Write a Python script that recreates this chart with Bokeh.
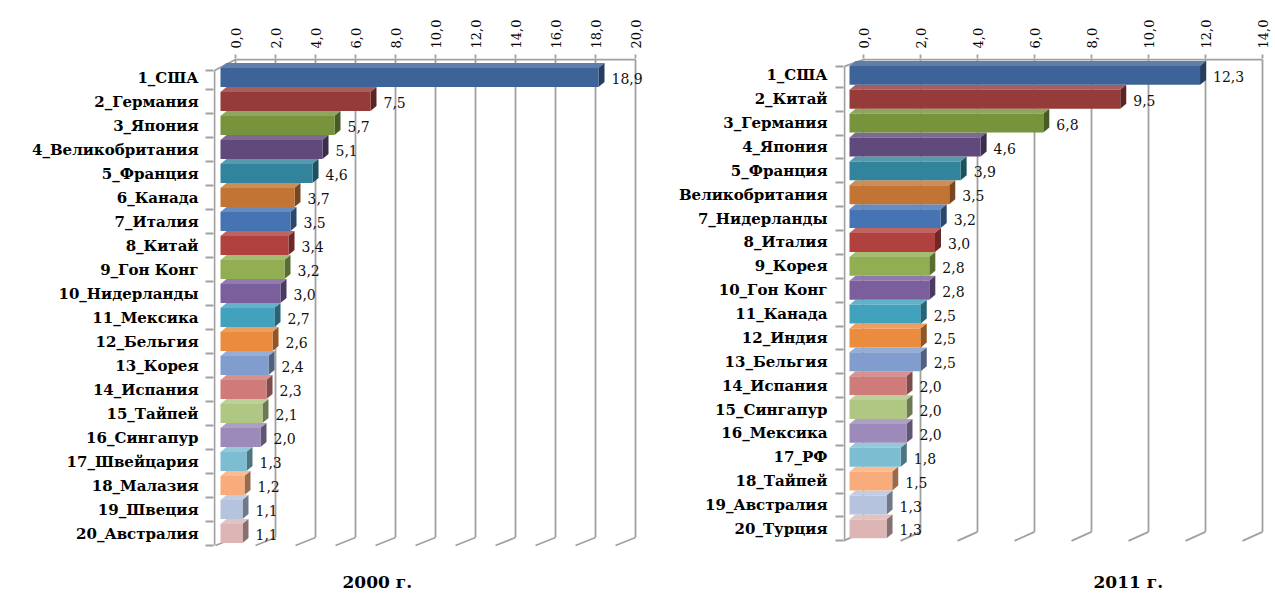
import math
from bokeh.plotting import figure
from bokeh.models import (Range1d, FixedTicker, LinearAxis, CustomJSTickFormatter,
                          Label, ColumnDataSource)
from bokeh.layouts import row
from bokeh.core.properties import value
from bokeh.embed import file_html
from bokeh.resources import INLINE

# ---------------- data ----------------
countries_2000 = ["1_США", "2_Германия", "3_Япония", "4_Великобритания", "5_Франция",
                  "6_Канада", "7_Италия", "8_Китай", "9_Гон Конг", "10_Нидерланды",
                  "11_Мексика", "12_Бельгия", "13_Корея", "14_Испания", "15_Тайпей",
                  "16_Сингапур", "17_Швейцария", "18_Малазия", "19_Швеция", "20_Австралия"]
values_2000 = [18.9, 7.5, 5.7, 5.1, 4.6, 3.7, 3.5, 3.4, 3.2, 3.0,
               2.7, 2.6, 2.4, 2.3, 2.1, 2.0, 1.3, 1.2, 1.1, 1.1]

countries_2011 = ["1_США", "2_Китай", "3_Германия", "4_Япония", "5_Франция",
                  "Великобритания", "7_Нидерланды", "8_Италия", "9_Корея", "10_Гон Конг",
                  "11_Канада", "12_Индия", "13_Бельгия", "14_Испания", "15_Сингапур",
                  "16_Мексика", "17_РФ", "18_Тайпей", "19_Австралия", "20_Турция"]
values_2011 = [12.3, 9.5, 6.8, 4.6, 3.9, 3.5, 3.2, 3.0, 2.8, 2.8,
               2.5, 2.5, 2.5, 2.0, 2.0, 2.0, 1.8, 1.5, 1.3, 1.3]

ticks_2000 = [0, 2, 4, 6, 8, 10, 12, 14, 16, 18, 20]
ticks_2011 = [0, 2, 4, 6, 8, 10, 12, 14]

title_2000 = "2000 г."
title_2011 = "2011 г."

bar_colors = ["#3D6398", "#953B39", "#77933C", "#604A7B", "#31849B",
              "#C27434", "#4673B1", "#B1413F", "#91AF52", "#7A5F9C",
              "#42A2BE", "#EB8B3D", "#809DCD", "#CE7B79", "#B0C683",
              "#9C8ABA", "#7DBDD2", "#F9AC7B", "#B5C3DE", "#DDB5B5"]

GRID = "#A0A0A0"
SERIF = "DejaVu Serif"
FIG_H = 595
ROW_PX = 24.0


def shade(hexc, f):
    r, g, b = (int(hexc[i:i + 2], 16) for i in (1, 3, 5))
    if f < 1:
        r, g, b = (int(c * f) for c in (r, g, b))
    else:
        t = f - 1
        r, g, b = (int(c + (255 - c) * t) for c in (r, g, b))
    return "#%02x%02x%02x" % (r, g, b)


def fmt(v):
    return ("%.1f" % v).replace(".", ",")


def make_chart(names, vals, ticks, title, cfg):
    n = len(names)
    ppu = cfg["ppu"]
    frame_w = cfg["width"] - cfg["mbl"] - cfg["mbr"]
    plot_h = n * ROW_PX + cfg["top_off"]          # walls/bars area height
    floor_px = cfg["mbt"] + plot_h                 # pixel row of the front floor
    extra = FIG_H - floor_px                       # caption strip below the floor
    x0 = -cfg["wall_gap"] / ppu
    x1 = x0 + frame_w / ppu
    back_dx = cfg["back_off"] / ppu
    y_top = -0.5 - cfg["top_off"] / ROW_PX
    y_bot = n - 0.5

    p = figure(width=cfg["width"], height=FIG_H,
               x_range=Range1d(x0, x1),
               y_range=Range1d(y_bot + extra / ROW_PX, y_top),
               output_backend="svg", toolbar_location=None,
               x_axis_location=None, y_axis_location=None,
               min_border_left=cfg["mbl"], min_border_right=cfg["mbr"],
               min_border_top=cfg["mbt"], min_border_bottom=0)
    p.outline_line_color = None
    p.xgrid.visible = False
    p.ygrid.visible = False
    p.background_fill_color = "white"
    p.border_fill_color = "white"

    # ---- 3D walls & grid (from the tick values) ----
    one_y = 1.0 / ROW_PX
    y_back_bot = y_bot - cfg["floor_dy"] / ROW_PX
    gx = [t + back_dx for t in ticks]
    p.segment(x0=gx, y0=[y_top + one_y] * len(gx), x1=gx, y1=[y_back_bot] * len(gx),
              line_color=GRID, line_width=1.8)
    fdx = cfg["floor_dx"] / ppu
    p.segment(x0=gx, y0=[y_back_bot] * len(gx), x1=[g - fdx for g in gx], y1=[y_bot] * len(gx),
              line_color=GRID, line_width=1.8)
    p.segment(x0=[gx[0]], y0=[y_top + one_y], x1=[gx[-1]], y1=[y_top + one_y],
              line_color=GRID, line_width=1.8)
    x_wall = x0 + 1.0 / ppu
    y_wall_top = -0.5 + cfg["wall_top_off"] / ROW_PX
    p.segment(x0=[x_wall], y0=[y_wall_top], x1=[x_wall], y1=[y_bot],
              line_color=GRID, line_width=1.8)
    p.segment(x0=[x_wall], y0=[y_wall_top], x1=[gx[0]], y1=[y_top + one_y],
              line_color=GRID, line_width=1.8)

    # ---- bars ----
    idx = list(range(n))
    cols = bar_colors[:n]
    h = 19.0 / ROW_PX
    ddx = 6.0 / ppu
    ddy = 5.0 / ROW_PX
    side_xs = [[v, v + ddx, v + ddx, v] for v in vals]
    side_ys = [[i - h / 2, i - h / 2 - ddy, i + h / 2 - ddy, i + h / 2] for i in idx]
    top_xs = [[0, v, v + ddx, ddx] for v in vals]
    top_ys = [[i - h / 2, i - h / 2, i - h / 2 - ddy, i - h / 2 - ddy] for i in idx]
    p.patches(xs=top_xs, ys=top_ys, fill_color=[shade(c, 1.18) for c in cols],
              line_color=None)
    p.patches(xs=side_xs, ys=side_ys, fill_color=[shade(c, 0.62) for c in cols],
              line_color=None)
    src = ColumnDataSource(dict(y=idx, right=vals, color=cols,
                                lx=[v + ddx for v in vals], lab=[fmt(v) for v in vals]))
    p.hbar(y="y", left=0, right="right", height=h, fill_color="color",
           line_color=None, source=src)
    p.text(x="lx", y="y", text="lab", source=src, x_offset=7, y_offset=1,
           text_baseline="middle", text_align="left",
           text_font=value(SERIF), text_font_size="14px", text_color="#111111")

    # ---- category axis (left) ----
    yax = LinearAxis(ticker=FixedTicker(ticks=idx,
                                        minor_ticks=[y_wall_top] + [k + 0.5 for k in range(n)]),
                     major_label_overrides={i: names[i] for i in idx})
    yax.axis_line_color = None
    yax.major_tick_line_color = None
    yax.major_tick_out = 0
    yax.major_tick_in = 0
    yax.minor_tick_out = 8
    yax.minor_tick_in = 0
    yax.minor_tick_line_color = GRID
    yax.minor_tick_line_width = 1.8
    yax.major_label_standoff = cfg["lab_standoff"]
    yax.major_label_text_font = SERIF
    yax.major_label_text_font_style = "bold"
    yax.major_label_text_font_size = "15px"
    yax.major_label_text_color = "#000000"
    p.add_layout(yax, "left")

    # ---- value axis (top, on the back wall) ----
    p.extra_x_ranges = {"back": Range1d(x0 - back_dx, x1 - back_dx)}
    xax = LinearAxis(x_range_name="back", ticker=FixedTicker(ticks=ticks),
                     formatter=CustomJSTickFormatter(code="return tick.toFixed(1).replace('.', ',');"))
    xax.major_label_orientation = math.pi / 2
    xax.axis_line_color = None
    xax.major_tick_out = 4
    xax.major_tick_in = 0
    xax.major_tick_line_color = GRID
    xax.major_tick_line_width = 1.8
    xax.minor_tick_line_color = None
    xax.major_label_standoff = 6
    xax.major_label_text_font = SERIF
    xax.major_label_text_font_size = "13px"
    xax.major_label_text_color = "#000000"
    p.add_layout(xax, "above")

    # ---- chart caption below the plot ----
    cap = Label(x=(cfg["title_x"] - cfg["mbl"] - cfg["wall_gap"]) / ppu,
                y=y_bot + (cfg["title_y"] - floor_px) / ROW_PX,
                x_units="data", y_units="data", text=title,
                text_align="left", text_baseline="middle",
                text_font=SERIF, text_font_size="17px", text_font_style="bold",
                text_color="#000000")
    p.add_layout(cap)
    return p


cfg_2000 = dict(width=648, mbl=213, mbr=3, mbt=58, ppu=20.0, wall_gap=7, back_off=15,
                top_off=7, wall_top_off=5, floor_dy=8, floor_dx=20,
                lab_standoff=7, title_x=342, title_y=581)
cfg_2011 = dict(width=627, mbl=195, mbr=4, mbt=55, ppu=28.5, wall_gap=6, back_off=14,
                top_off=5, wall_top_off=3, floor_dy=9, floor_dx=20,
                lab_standoff=8, title_x=1093 - 648, title_y=581)

p1 = make_chart(countries_2000, values_2000, ticks_2000, title_2000, cfg_2000)
p2 = make_chart(countries_2011, values_2011, ticks_2011, title_2011, cfg_2011)

layout = row(p1, p2)
open("out.html", "w").write(file_html(layout, INLINE))
